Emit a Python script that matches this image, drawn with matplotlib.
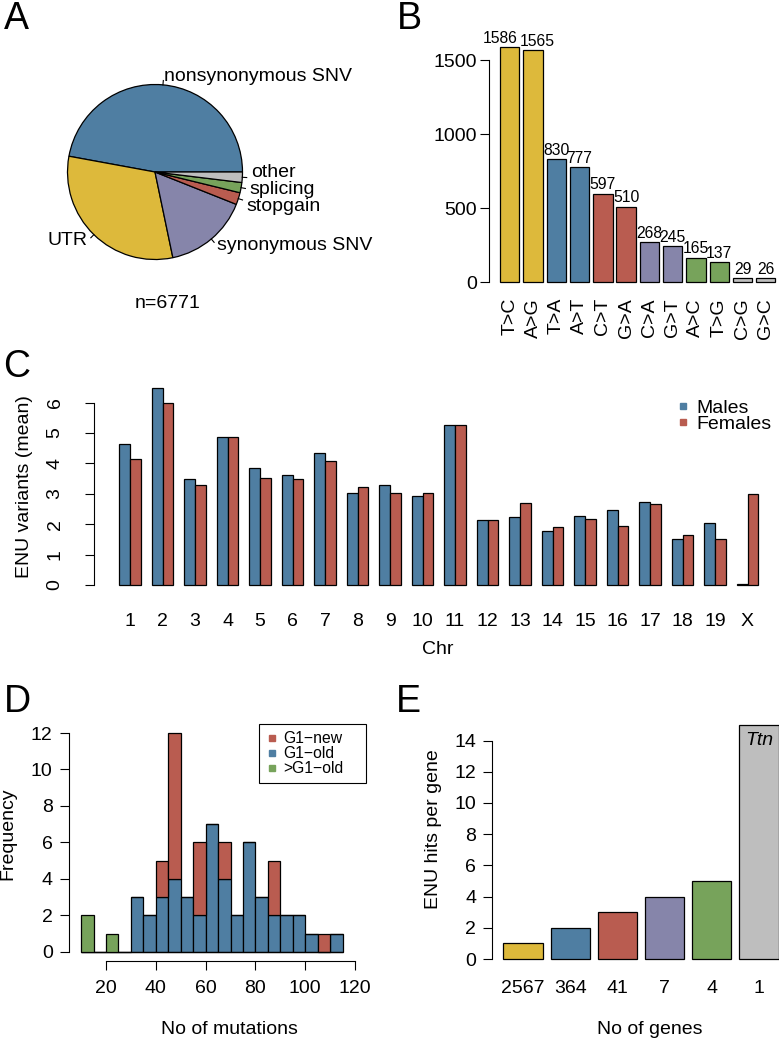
import numpy as np
import matplotlib
matplotlib.use('Agg')
import matplotlib.pyplot as plt
from matplotlib.lines import Line2D

plt.rcParams['font.family'] = ['Liberation Sans', 'DejaVu Sans']

W, H = 779, 1041

BLUE = '#4F7EA2'
YELLOW = '#DDB93B'
LAV = '#8685AA'
RED = '#B95C50'
GREEN = '#77A35B'
GREY = '#BEBEBE'

# A - variant classes
pie_labels = ['nonsynonymous SNV', 'UTR', 'synonymous SNV', 'stopgain', 'splicing', 'other']
pie_counts = [3190, 2110, 1063, 150, 128, 130]
pie_colors = [BLUE, YELLOW, LAV, RED, GREEN, GREY]
n_total = 6771

# B - substitution types
subst = ['T>C', 'A>G', 'T>A', 'A>T', 'C>T', 'G>A', 'C>A', 'G>T', 'A>C', 'T>G', 'C>G', 'G>C']
subst_counts = [1586, 1565, 830, 777, 597, 510, 268, 245, 165, 137, 29, 26]
subst_colors = [YELLOW, YELLOW, BLUE, BLUE, RED, RED, LAV, LAV, GREEN, GREEN, GREY, GREY]

# C - mean variants per chromosome
chroms = [str(i) for i in range(1, 20)] + ['X']
males = [4.63, 6.47, 3.48, 4.87, 3.84, 3.63, 4.35, 3.04, 3.28, 2.93,
         5.25, 2.13, 2.23, 1.79, 2.27, 2.46, 2.72, 1.52, 2.04, 0.05]
females = [4.14, 6.00, 3.30, 4.87, 3.51, 3.50, 4.07, 3.22, 3.04, 3.03,
           5.26, 2.14, 2.70, 1.90, 2.18, 1.94, 2.65, 1.66, 1.52, 2.99]

# D - histogram of mutations per mouse (bins of 5 from 10 to 115)
bin_edges = np.arange(10, 120, 5)
g1_old = [0, 0, 0, 0, 3, 2, 3, 4, 3, 2, 7, 4, 2, 6, 3, 2, 2, 2, 1, 0, 1]
g1_new = [0, 0, 0, 0, 0, 0, 2, 8, 0, 4, 0, 2, 0, 0, 0, 3, 0, 0, 0, 1, 0]
gt_g1_old = [2, 0, 1, 0, 0, 0, 0, 0, 0, 0, 0, 0, 0, 0, 0, 0, 0, 0, 0, 0, 0]

# E - hits per gene
hits = [1, 2, 3, 4, 5, 15]
n_genes = ['2567', '364', '41', '7', '4', '1']
hit_colors = [YELLOW, BLUE, RED, LAV, GREEN, GREY]

FS = 14
FS_SMALL = 11.3
EDGE = dict(edgecolor='black', linewidth=0.9)

fig = plt.figure(figsize=(W / 100, H / 100), dpi=100)


def px_axes(left, top, right, bottom):
    return fig.add_axes([left / W, 1 - bottom / H, (right - left) / W, (bottom - top) / H])


def ftext(x, y, s, **kw):
    fig.text(x / W, 1 - y / H, s, **kw)


def r_style(ax):
    for side in ['top', 'right']:
        ax.spines[side].set_visible(False)
    for side in ['left', 'bottom']:
        ax.spines[side].set_linewidth(0.8)
    ax.tick_params(direction='out', length=6.7, width=0.8, labelsize=FS)


# ---- A: pie
ax = px_axes(20, 60, 290, 310)
ax.pie(pie_counts, colors=pie_colors, startangle=0, counterclock=True,
       radius=1, wedgeprops=EDGE)
ax.set_aspect('auto')
ax.set_xlim(-1.543, 1.543)
ax.set_ylim(-1.577, 1.28)
frac = np.array(pie_counts) / np.sum(pie_counts)
mids = 2 * np.pi * (np.cumsum(frac) - frac / 2)
# small slices sit close together, spread their labels a little
label_shift = {'other': 3.5, 'stopgain': -4}
for lab, a in zip(pie_labels, mids):
    cx, cy = np.cos(a), np.sin(a)
    ax.plot([cx, 1.05 * cx], [cy, 1.05 * cy], color='black', lw=0.8)
    ax.annotate(lab, (1.1 * cx, 1.1 * cy), xytext=(0, label_shift.get(lab, 0)),
                textcoords='offset points', ha='left' if cx >= 0 else 'right',
                va='center', fontsize=FS)
ftext(167.5, 303, 'n=%d' % n_total, ha='center', va='center', fontsize=FS)

# ---- B: substitution bars
ax = px_axes(489, 37.9, 786.5, 291.4)
xb = 0.7 + 1.2 * np.arange(len(subst))
ax.bar(xb, subst_counts, width=1, color=subst_colors, **EDGE)
ax.set_xlim(-0.368, 14.968)
ax.set_ylim(-63.4, 1649.4)
r_style(ax)
ax.spines['bottom'].set_visible(False)
ax.spines['left'].set_bounds(0, 1500)
ax.set_yticks([0, 500, 1000, 1500])
ax.tick_params(axis='y', pad=2)
ax.set_xticks(xb, subst, rotation=90)
ax.tick_params(axis='x', length=0, pad=4.8)
nudge = {0: -7, 1: 3}
for i, (x, v) in enumerate(zip(xb, subst_counts)):
    ax.annotate(str(v), (x, v), xytext=(nudge.get(i, 0), 3), textcoords='offset points',
                ha='center', va='baseline', fontsize=FS_SMALL)

# ---- C: males vs females per chromosome
ax = px_axes(93.7, 380.4, 783.9, 592.9)
grp = 3 * np.arange(len(chroms))
ax.bar(grp + 1.5, males, width=1, color=BLUE, **EDGE)
ax.bar(grp + 2.5, females, width=1, color=RED, **EDGE)
ax.set_xlim(-1.36, 62.36)
ax.set_ylim(-0.259, 6.73)
r_style(ax)
ax.spines['bottom'].set_visible(False)
ax.spines['left'].set_bounds(0, 6)
ax.set_yticks(range(7))
for lab in ax.get_yticklabels():
    lab.set_rotation(90)
    lab.set_va('center')
ax.tick_params(axis='y', pad=15)
ax.set_xticks(grp + 2, chroms)
ax.tick_params(axis='x', length=0, pad=14.7)
handles = [Line2D([], [], ls='', marker='s', ms=4.8, color=BLUE, label='Males'),
           Line2D([], [], ls='', marker='s', ms=4.8, color=RED, label='Females')]
ax.legend(handles=handles, loc='upper left', bbox_to_anchor=(678.2 / W, 1 - 399 / H),
          bbox_transform=fig.transFigure, frameon=False, fontsize=FS,
          handlelength=0.5, handletextpad=0.46, borderpad=0, labelspacing=-0.05,
          borderaxespad=0)
ftext(25, 487, 'ENU variants (mean)', rotation=90, ha='center', va='center', fontsize=FS)
ftext(438, 650, 'Chr', ha='center', va='center', fontsize=FS)

# ---- D: histogram
ax = px_axes(69, 724.3, 366, 960.5)
lefts = bin_edges[:-1]
ax.bar(lefts, g1_old, width=5, align='edge', color=BLUE, **EDGE)
ax.bar(lefts, g1_new, width=5, align='edge', bottom=g1_old, color=RED, **EDGE)
ax.bar(lefts, gt_g1_old, width=5, align='edge', color=GREEN, **EDGE)
ax.set_xlim(5.14, 124.4)
ax.set_ylim(-0.48, 12.48)
r_style(ax)
ax.spines['left'].set_bounds(0, 12)
ax.spines['bottom'].set_bounds(20, 120)
ax.set_yticks(range(0, 13, 2))
ax.set_xticks(range(20, 121, 20))
ax.tick_params(axis='y', pad=5)
ax.tick_params(axis='x', pad=7.5)
handles = [Line2D([], [], ls='', marker='s', ms=4.2, color=c, label=l)
           for c, l in [(RED, 'G1\u2212new'), (BLUE, 'G1\u2212old'), (GREEN, '>G1\u2212old')]]
leg = ax.legend(handles=handles, loc='upper left',
                bbox_to_anchor=(259.3 / W, 1 - 783.3 / H, 106.4 / W, 59 / H),
                bbox_transform=fig.transFigure, mode='expand', fontsize=FS_SMALL,
                handlelength=0.675, handletextpad=0.4, borderpad=0.45, labelspacing=0.0,
                borderaxespad=0, fancybox=False, framealpha=1)
leg.get_frame().set_edgecolor('black')
leg.get_frame().set_linewidth(0.8)
ftext(8, 834, 'Frequency', rotation=90, ha='center', va='center', fontsize=FS)
ftext(229, 1030, 'No of mutations', ha='center', va='center', fontsize=FS)

# ---- E: hits per gene
ax = px_axes(492.3, 715.6, 789.6, 968.4)
xe = 0.7 + 1.2 * np.arange(len(hits))
ax.bar(xe, hits, width=1, color=hit_colors, **EDGE)
ax.set_xlim(-0.08, 7.48)
ax.set_ylim(-0.6, 15.6)
r_style(ax)
ax.spines['bottom'].set_visible(False)
ax.spines['left'].set_bounds(0, 14)
ax.set_yticks(range(0, 15, 2))
ax.tick_params(axis='y', pad=5)
ax.set_xticks(xe, n_genes)
ax.tick_params(axis='x', length=0, pad=8.2)
ax.text(xe[-1], hits[-1] - 1, 'Ttn', style='italic', ha='center', va='center', fontsize=FS)
ftext(433, 829, 'ENU hits per gene', rotation=90, ha='center', va='center', fontsize=FS)
ftext(650, 1030, 'No of genes', ha='center', va='center', fontsize=FS)

# panel letters
for letter, (x, y) in {'A': (4, 29), 'B': (397, 29), 'C': (3, 377),
                       'D': (4, 712), 'E': (396, 712)}.items():
    ftext(x, y, letter, ha='left', va='baseline', fontsize=27)

fig.savefig('out.png', dpi=100)
